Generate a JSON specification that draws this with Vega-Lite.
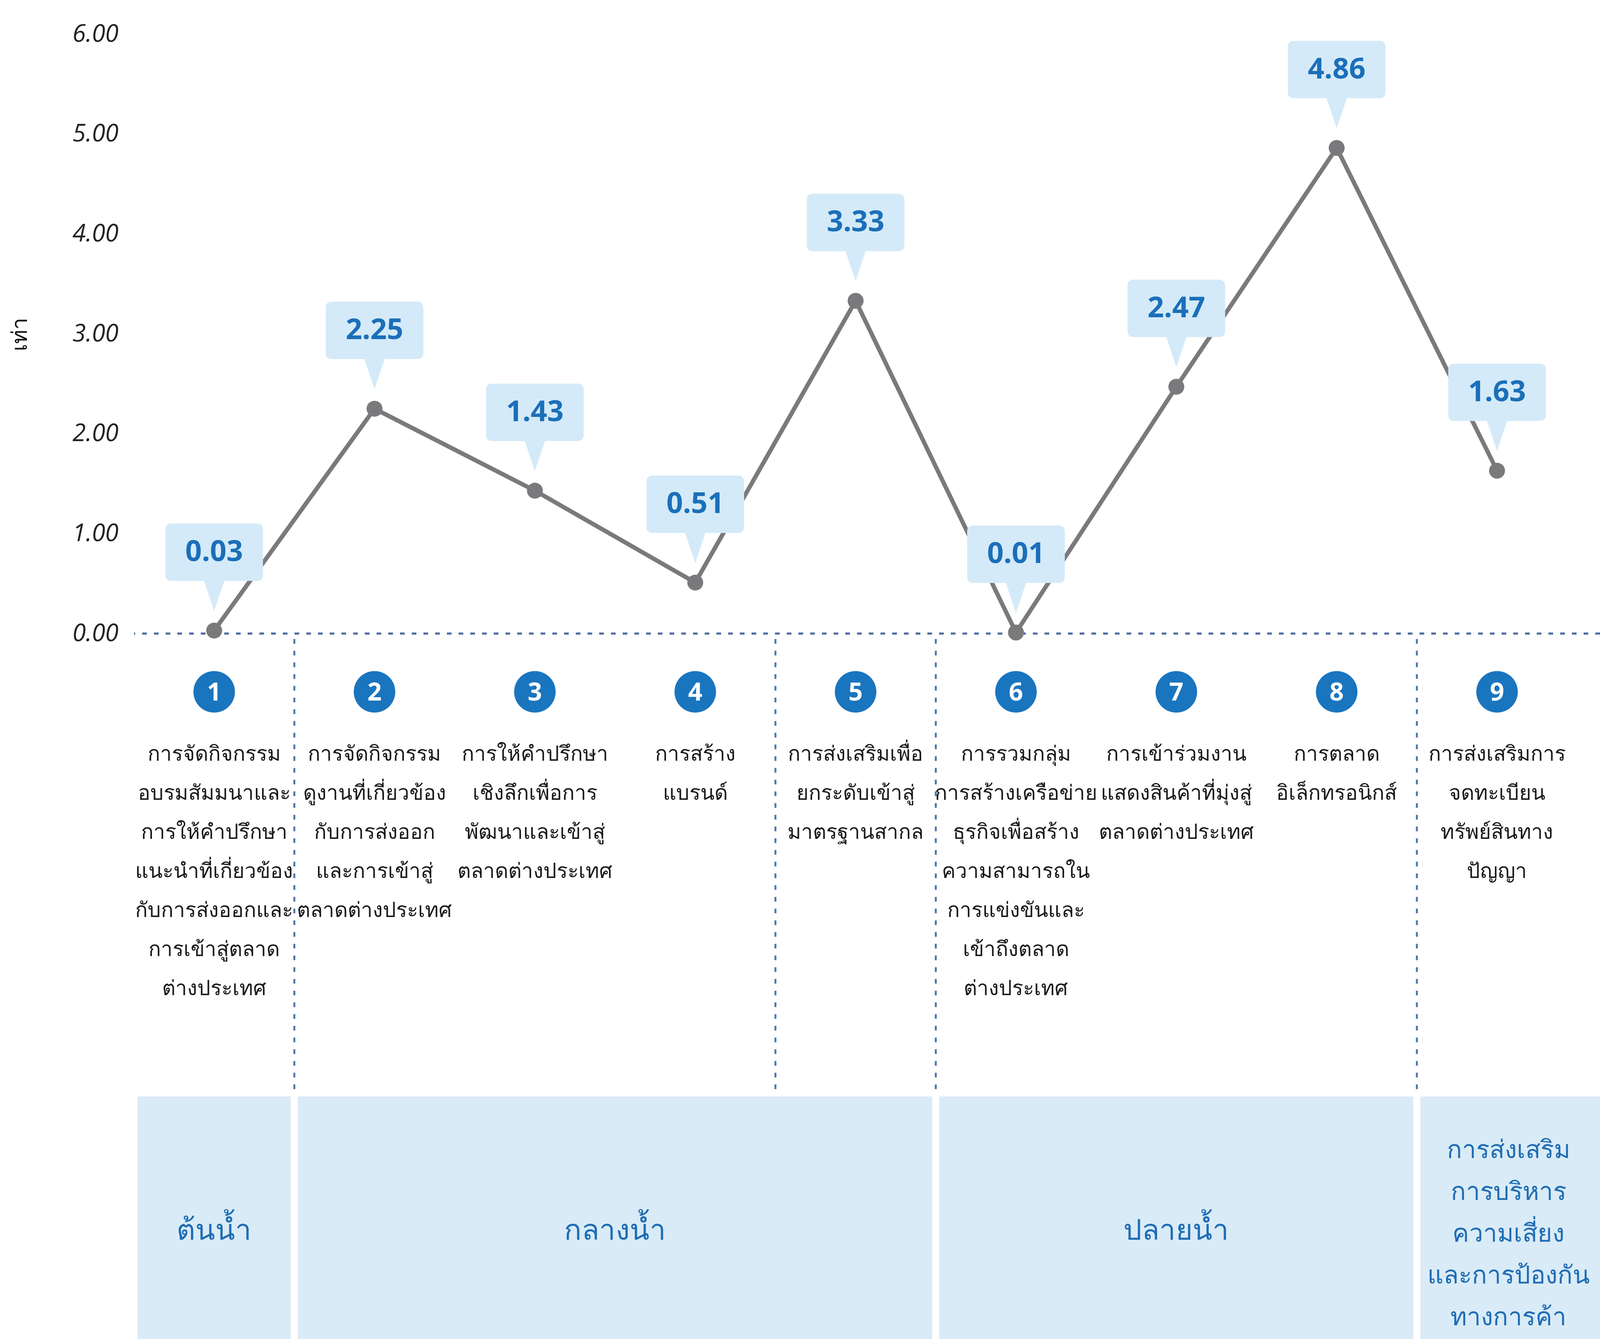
{
  "$schema": "https://vega.github.io/schema/vega-lite/v6.json",
  "width": 3753,
  "height": 3340,
  "autosize": {"type": "none"},
  "padding": {"left": 343, "top": 87, "right": 0, "bottom": 0},
  "background": "white",
  "config": {"view": {"stroke": null}},
  "datasets": {
    "items": [
      {"item": 1, "value": 0.03, "label": "0.03", "desc": ["การจัดกิจกรรม", "อบรมสัมมนาและ", "การให้คำปรึกษา", "แนะนำที่เกี่ยวข้อง", "กับการส่งออกและ", "การเข้าสู่ตลาด", "ต่างประเทศ"]},
      {"item": 2, "value": 2.25, "label": "2.25", "desc": ["การจัดกิจกรรม", "ดูงานที่เกี่ยวข้อง", "กับการส่งออก", "และการเข้าสู่", "ตลาดต่างประเทศ"]},
      {"item": 3, "value": 1.43, "label": "1.43", "desc": ["การให้คำปรึกษา", "เชิงลึกเพื่อการ", "พัฒนาและเข้าสู่", "ตลาดต่างประเทศ"]},
      {"item": 4, "value": 0.51, "label": "0.51", "desc": ["การสร้าง", "แบรนด์"]},
      {"item": 5, "value": 3.33, "label": "3.33", "desc": ["การส่งเสริมเพื่อ", "ยกระดับเข้าสู่", "มาตรฐานสากล"]},
      {"item": 6, "value": 0.01, "label": "0.01", "desc": ["การรวมกลุ่ม", "การสร้างเครือข่าย", "ธุรกิจเพื่อสร้าง", "ความสามารถใน", "การแข่งขันและ", "เข้าถึงตลาด", "ต่างประเทศ"]},
      {"item": 7, "value": 2.47, "label": "2.47", "desc": ["การเข้าร่วมงาน", "แสดงสินค้าที่มุ่งสู่", "ตลาดต่างประเทศ"]},
      {"item": 8, "value": 4.86, "label": "4.86", "desc": ["การตลาด", "อิเล็กทรอนิกส์"]},
      {"item": 9, "value": 1.63, "label": "1.63", "desc": ["การส่งเสริมการ", "จดทะเบียน", "ทรัพย์สินทาง", "ปัญญา"]}
    ],
    "stages": [
      {"name": ["ต้นน้ำ"], "start": 0.5, "end": 1.5},
      {"name": ["กลางน้ำ"], "start": 1.5, "end": 5.5},
      {"name": ["ปลายน้ำ"], "start": 5.5, "end": 8.5},
      {"name": ["การส่งเสริม", "การบริหาร", "ความเสี่ยง", "และการป้องกัน", "ทางการค้า"], "start": 8.5, "end": 9.642}
    ],
    "seps": [{"pos": 1.5}, {"pos": 4.5}, {"pos": 5.5}, {"pos": 8.5}]
  },
  "layer": [
    {
      "data": {"name": "stages"},
      "mark": {"type": "rect", "fill": "#d9ebf6"},
      "encoding": {
        "x": {"field": "start", "type": "quantitative", "scale": {"domain": [0.5, 9.642], "nice": false, "zero": false}, "axis": null},
        "x2": {"field": "end"},
        "y": {"datum": -4.633, "type": "quantitative", "scale": {"domain": [-7.06, 6], "nice": false, "zero": false},
          "axis": {"values": [0, 1, 2, 3, 4, 5, 6], "format": ".2f", "labelFont": "Open Sans", "labelFontStyle": "italic", "labelFontSize": 62, "labelColor": "#222222", "labelPadding": 40, "ticks": false, "tickSize": 0, "domain": false, "grid": false,
            "title": "เท่า", "titleFont": "Noto Sans", "titleFontSize": 55, "titleFontWeight": "normal", "titleColor": "#111111", "titlePadding": 104, "titleY": 768}},
        "y2": {"datum": -7.06}
      }
    },
    {
      "data": {"name": "stages"},
      "mark": {"type": "rule", "color": "white", "strokeWidth": 18},
      "encoding": {
        "x": {"field": "start", "type": "quantitative", "scale": {"domain": [0.5, 9.642], "nice": false, "zero": false}, "axis": null},
        "y": {"datum": -4.6, "type": "quantitative", "scale": {"domain": [-7.06, 6], "nice": false, "zero": false}},
        "y2": {"datum": -7.06}
      }
    },
    {
      "data": {"name": "stages"},
      "transform": [{"filter": "datum.start < 8"}, {"calculate": "(datum.start + datum.end) / 2", "as": "mid"}],
      "mark": {"type": "text", "font": "Noto Sans", "fontSize": 74, "fontWeight": 500, "lineHeight": 107, "color": "#1f6db5", "baseline": "middle", "align": "center"},
      "encoding": {
        "x": {"field": "mid", "type": "quantitative", "scale": {"domain": [0.5, 9.642], "nice": false, "zero": false}, "axis": null},
        "y": {"datum": -5.98, "type": "quantitative", "scale": {"domain": [-7.06, 6], "nice": false, "zero": false}},
        "text": {"field": "name"}
      }
    },
    {
      "data": {"name": "stages"},
      "transform": [{"filter": "datum.start > 8"}, {"calculate": "(datum.start + datum.end) / 2", "as": "mid"}],
      "mark": {"type": "text", "font": "Noto Sans", "fontSize": 64, "fontWeight": 500, "lineHeight": 107, "color": "#1f6db5", "baseline": "middle", "align": "center"},
      "encoding": {
        "x": {"field": "mid", "type": "quantitative", "scale": {"domain": [0.5, 9.642], "nice": false, "zero": false}, "axis": null},
        "y": {"datum": -5.174, "type": "quantitative", "scale": {"domain": [-7.06, 6], "nice": false, "zero": false}},
        "text": {"field": "name"}
      }
    },
    {
      "data": {"name": "seps"},
      "mark": {"type": "rule", "color": "#4a78b0", "strokeWidth": 5, "strokeDash": [12, 18]},
      "encoding": {
        "x": {"field": "pos", "type": "quantitative", "scale": {"domain": [0.5, 9.642], "nice": false, "zero": false}, "axis": null},
        "y": {"datum": -0.055, "type": "quantitative", "scale": {"domain": [-7.06, 6], "nice": false, "zero": false}},
        "y2": {"datum": -4.607}
      }
    },
    {
      "data": {"values": [{}]},
      "mark": {"type": "rule", "color": "#4f6fa0", "strokeWidth": 5.5, "strokeDash": [12, 18]},
      "encoding": {
        "y": {"datum": 0, "type": "quantitative", "scale": {"domain": [-7.06, 6], "nice": false, "zero": false}}
      }
    },
    {
      "data": {"name": "items"},
      "mark": {"type": "line", "color": "#7a7a7d", "strokeWidth": 11},
      "encoding": {
        "x": {"field": "item", "type": "quantitative", "scale": {"domain": [0.5, 9.642], "nice": false, "zero": false}, "axis": null},
        "y": {"field": "value", "type": "quantitative", "scale": {"domain": [-7.06, 6], "nice": false, "zero": false}}
      }
    },
    {
      "data": {"name": "items"},
      "mark": {"type": "point", "shape": "M -1.09 -2.74 L 1.09 -2.74 Q 1.25 -2.74 1.25 -2.58 L 1.25 -1.43 Q 1.25 -1.27 1.09 -1.27 L 0.26 -1.27 L 0 -0.5 L -0.26 -1.27 L -1.09 -1.27 Q -1.25 -1.27 -1.25 -1.43 L -1.25 -2.58 Q -1.25 -2.74 -1.09 -2.74 Z", "filled": true, "color": "#d4eaf8", "opacity": 1, "size": 40000, "strokeWidth": 0},
      "encoding": {
        "x": {"field": "item", "type": "quantitative", "scale": {"domain": [0.5, 9.642], "nice": false, "zero": false}, "axis": null},
        "y": {"field": "value", "type": "quantitative", "scale": {"domain": [-7.06, 6], "nice": false, "zero": false}}
      }
    },
    {
      "data": {"name": "items"},
      "mark": {"type": "text", "font": "Noto Sans", "fontWeight": "bold", "fontSize": 74, "color": "#1b6fb9", "baseline": "middle", "align": "center", "dy": -200},
      "encoding": {
        "x": {"field": "item", "type": "quantitative", "scale": {"domain": [0.5, 9.642], "nice": false, "zero": false}, "axis": null},
        "y": {"field": "value", "type": "quantitative", "scale": {"domain": [-7.06, 6], "nice": false, "zero": false}},
        "text": {"field": "label"}
      }
    },
    {
      "data": {"name": "items"},
      "mark": {"type": "point", "filled": true, "color": "#7a7a7d", "opacity": 1, "size": 1662},
      "encoding": {
        "x": {"field": "item", "type": "quantitative", "scale": {"domain": [0.5, 9.642], "nice": false, "zero": false}, "axis": null},
        "y": {"field": "value", "type": "quantitative", "scale": {"domain": [-7.06, 6], "nice": false, "zero": false}}
      }
    },
    {
      "data": {"name": "items"},
      "mark": {"type": "point", "filled": true, "color": "#1a75bf", "opacity": 1, "size": 11310},
      "encoding": {
        "x": {"field": "item", "type": "quantitative", "scale": {"domain": [0.5, 9.642], "nice": false, "zero": false}, "axis": null},
        "y": {"datum": -0.583, "type": "quantitative", "scale": {"domain": [-7.06, 6], "nice": false, "zero": false}}
      }
    },
    {
      "data": {"name": "items"},
      "mark": {"type": "text", "font": "Noto Sans", "fontWeight": "bold", "fontSize": 64, "color": "white", "baseline": "middle", "align": "center", "dy": 3},
      "encoding": {
        "x": {"field": "item", "type": "quantitative", "scale": {"domain": [0.5, 9.642], "nice": false, "zero": false}, "axis": null},
        "y": {"datum": -0.583, "type": "quantitative", "scale": {"domain": [-7.06, 6], "nice": false, "zero": false}},
        "text": {"field": "item", "type": "nominal"}
      }
    },
    {
      "data": {"name": "items"},
      "mark": {"type": "text", "font": "Noto Sans", "fontSize": 53, "lineHeight": 100, "color": "#1a1a1a", "baseline": "top", "align": "center"},
      "encoding": {
        "x": {"field": "item", "type": "quantitative", "scale": {"domain": [0.5, 9.642], "nice": false, "zero": false}, "axis": null},
        "y": {"datum": -1.107, "type": "quantitative", "scale": {"domain": [-7.06, 6], "nice": false, "zero": false}},
        "text": {"field": "desc"}
      }
    }
  ]
}
